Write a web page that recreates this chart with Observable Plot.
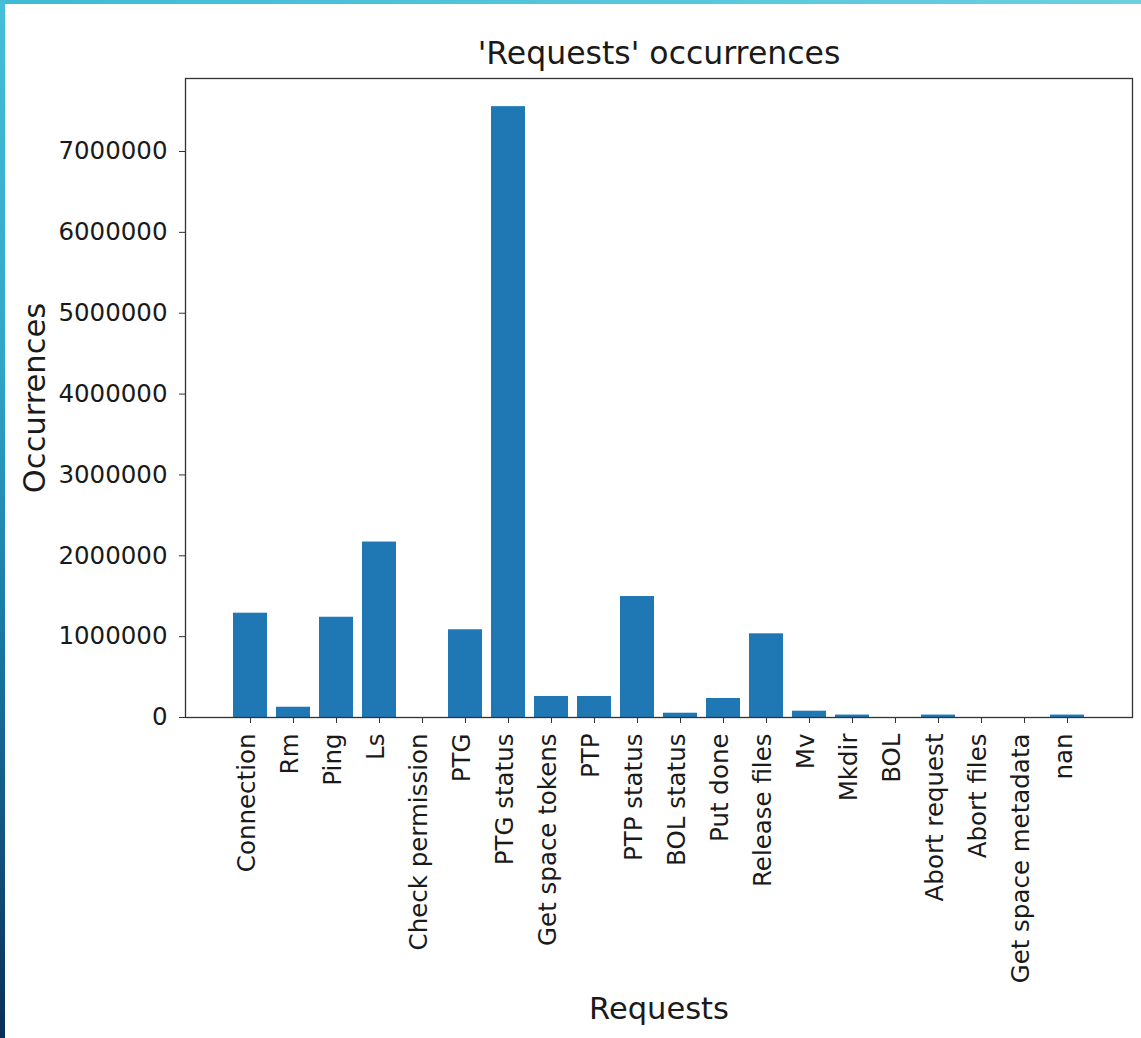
<!DOCTYPE html>
<html>
<head>
<meta charset="utf-8">
<script src="https://cdn.jsdelivr.net/npm/d3@7"></script>
<script src="https://cdn.jsdelivr.net/npm/@observablehq/plot@0.6"></script>
<style>
  html, body { margin: 0; padding: 0; background: #fff; }
  #wrap { position: relative; width: 1141px; height: 1038px; overflow: hidden; background: #fff; }
  #topbar { position: absolute; left: 0; top: 0; width: 1141px; height: 4px;
    background: linear-gradient(to right, #3fbad5, #6ad0e0); z-index: 2; }
  #leftbar { position: absolute; left: 0; top: 0; width: 5px; height: 1038px;
    background: linear-gradient(to bottom, #45bfd8 0%, #2fa6c8 35%, #1b7aa6 60%, #135a85 78%, #0a2e55 100%); z-index: 2; }
  #chart { position: absolute; left: 0; top: 0; }
</style>
</head>
<body>
<div id="wrap">
  <div id="topbar"></div>
  <div id="leftbar"></div>
  <div id="chart"></div>
</div>
<script>
const categories = ["Connection", "Rm", "Ping", "Ls", "Check permission", "PTG", "PTG status",
  "Get space tokens", "PTP", "PTP status", "BOL status", "Put done", "Release files", "Mv",
  "Mkdir", "BOL", "Abort request", "Abort files", "Get space metadata", "nan"];
const occurrences = [1290000, 127000, 1240000, 2170000, 0, 1085000, 7555000,
  260000, 260000, 1496000, 53000, 235000, 1035000, 78000,
  30000, 0, 30000, 0, 0, 30000];
const yTicks = [0, 1000000, 2000000, 3000000, 4000000, 5000000, 6000000, 7000000];
const titleText = "'Requests' occurrences";
const xLabel = "Requests";
const yLabel = "Occurrences";

const data = categories.map((c, i) => ({ request: c, value: occurrences[i] }));

const chart = Plot.plot({
  width: 1141,
  height: 1038,
  marginTop: 78,
  marginBottom: 321,
  marginLeft: 185,
  marginRight: 9,
  style: { fontFamily: "DejaVu Sans", fontSize: "24.5px", color: "#1a1a1a", background: "transparent" },
  x: { domain: categories, paddingInner: 0.2, paddingOuter: 0.99, label: null },
  y: { domain: [0, 7903000], label: null },
  marks: [
    Plot.barY(data, { x: "request", y: "value", fill: "#1f77b4" }),
    Plot.frame({ stroke: "#333", strokeWidth: 1.3 }),
    Plot.axisX({ tickSize: 6, tickFormat: () => "", label: null, stroke: "#333" }),
    Plot.axisX({ tickRotate: -90, tickSize: 0, tickPadding: 16, dx: -3, label: null }),
    Plot.axisY({ ticks: yTicks, tickFormat: d => String(d), tickSize: 6, tickPadding: 12, label: null, stroke: "#333" }),
    Plot.text([titleText], { text: d => d, frameAnchor: "top", dy: -37, fontSize: 31.5, fill: "#1a1a1a" }),
    Plot.text([xLabel], { text: d => d, frameAnchor: "bottom", dy: 301, fontSize: 30.5, fill: "#1a1a1a" }),
    Plot.text([yLabel], { text: d => d, frameAnchor: "left", dx: -150, rotate: -90, textAnchor: "middle", fontSize: 30.5, fill: "#1a1a1a" })
  ]
});
document.getElementById("chart").appendChild(chart);
</script>
</body>
</html>
